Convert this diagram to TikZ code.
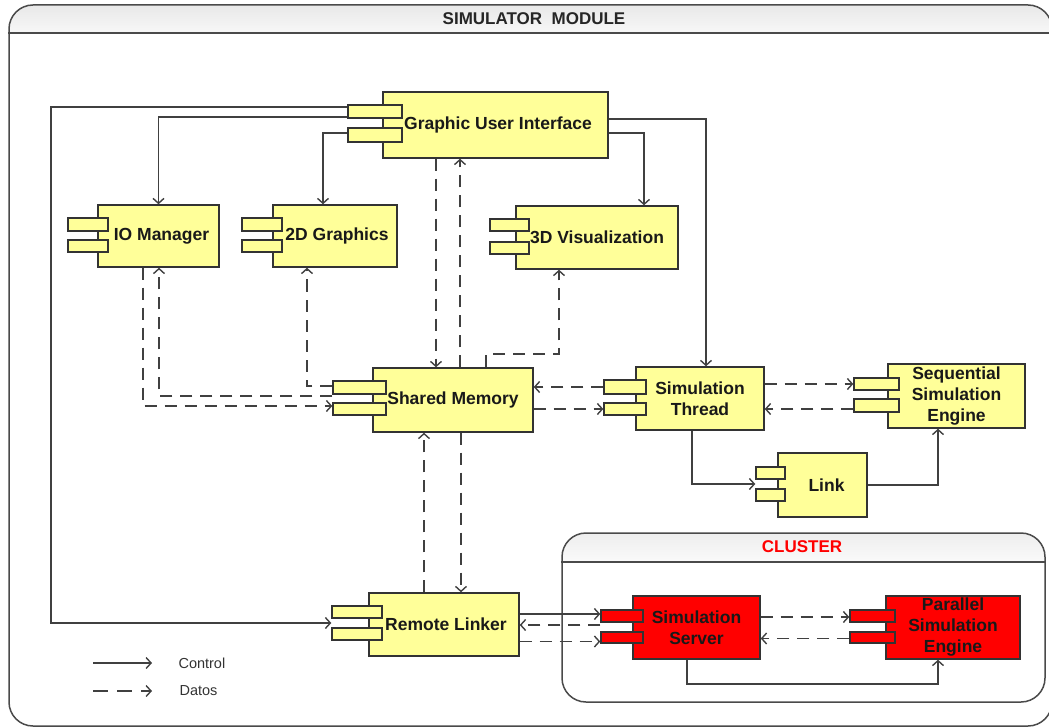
\documentclass[tikz,border=0pt]{standalone}
\usepackage{fontspec}
\setmainfont{Liberation Sans}
\usetikzlibrary{arrows.meta,calc}

\definecolor{compyellow}{HTML}{FFFF99}
\definecolor{compred}{HTML}{FF0000}
\definecolor{edge}{HTML}{333333}
\definecolor{wire}{HTML}{404040}
\definecolor{framec}{HTML}{4A4A4A}

\tikzset{
  comp/.style={draw=edge, line width=1.4pt, fill=compyellow, inner sep=0pt,
    align=center, text=black!90, font=\fontsize{17.5}{21}\selectfont\bfseries},
  redcomp/.style={fill=compred, text=black!90},
  tab/.style={draw=edge, line width=1.4pt, fill=compyellow, inner sep=0pt},
  ctrl/.style={draw=wire, line width=1.8pt,
    -{Straight Barb[length=5pt,width=11pt,line width=1.4pt]}},
  data/.style={ctrl, dash pattern=on 12pt off 8pt},
  frame/.style={draw=framec, line width=1.5pt, rounded corners=24pt},
  legtext/.style={anchor=west, text=black!80, font=\fontsize{14.5}{17}\selectfont},
}

% component body: [style] name x1 y1 x2 y2 text
\newcommand{\comp}[7][]{%
  \node[comp, #1, minimum width={(#5)-(#3)}, minimum height={(#6)-(#4)}]
    (#2) at ({((#3)+(#5))/2},{((#4)+(#6))/2}) {#7};}
% the two component tabs: [fill] name x1 x2 y1a y1b y2a y2b
\newcommand{\comptabs}[8][compyellow]{%
  \node[tab, fill=#1, minimum width={(#4)-(#3)}, minimum height={(#6)-(#5)}]
    (#2-t1) at ({((#3)+(#4))/2},{((#5)+(#6))/2}) {};
  \node[tab, fill=#1, minimum width={(#4)-(#3)}, minimum height={(#8)-(#7)}]
    (#2-t2) at ({((#3)+(#4))/2},{((#7)+(#8))/2}) {};
  \coordinate (#2-gap) at ($(#2-t1.south west)!0.5!(#2-t2.north west)$);}

\begin{document}
\begin{tikzpicture}[x=1pt, y=-1pt]
\useasboundingbox (0,0) rectangle (1049,727);

% ---- simulator module frame ----
\begin{scope}
  \clip[rounded corners=24pt] (9,5) rectangle (1052,726);
  \shade[top color=black!10, bottom color=black!3] (0,0) rectangle (1060,33);
\end{scope}
\node[frame, minimum width=1043pt, minimum height=721pt] (simmod) at (530.5,365.5) {};
\draw[draw=framec, line width=1.8pt] (simmod.west |- 0,33) -- (simmod.east |- 0,33);
\node[font=\fontsize{17}{19}\selectfont\bfseries, text=black!85] (simtitle) at (534,19) {SIMULATOR\ \ MODULE};

% ---- cluster frame ----
\begin{scope}
  \clip[rounded corners=24pt] (562,533) rectangle (1045,702);
  \shade[top color=black!9, bottom color=black!2] (550,520) rectangle (1060,562);
\end{scope}
\node[frame, minimum width=483pt, minimum height=169pt] (cluster) at (803.5,617.5) {};
\draw[draw=framec, line width=1.5pt] (cluster.west |- 0,562) -- (cluster.east |- 0,562);
\node[font=\fontsize{17}{19}\selectfont\bfseries, text=compred] (clustertitle) at (802,547) {CLUSTER};

% ---- components ----
\comp{gui}{383}{92}{608}{158}{\hspace*{5pt}Graphic User Interface}
\comptabs{gui}{348}{402}{105}{118}{128}{142}

\comp{io}{98}{205}{219}{267}{\hspace*{6pt}IO Manager}
\comptabs{io}{68}{108}{218}{231}{240}{252}

\comp{g2d}{273}{205}{397}{267}{\hspace*{4pt}2D Graphics}
\comptabs{g2d}{242}{282}{218}{231}{240}{252}

\comp{viz3}{516}{206}{678}{269}{3D Visualization}
\comptabs{viz3}{490}{529}{219}{231}{242}{254}

\comp{sm}{373}{368}{533}{432}{Shared Memory}
\comptabs{sm}{333}{386}{381}{394}{403}{415}

\comp{st}{636}{367}{764}{430}{Simulation\\Thread}
\comptabs{st}{604}{646}{380}{394}{403}{415}

\comp{seq}{888}{364}{1025}{428}{Sequential\\Simulation\\Engine}
\comptabs{seq}{854}{899}{378}{390}{399}{412}

\comp{link}{778}{453}{867}{517}{\hspace*{8pt}Link}
\comptabs{link}{756}{785}{467}{479}{489}{501}

\comp{rl}{369}{593}{519}{656}{\hspace*{4pt}Remote Linker}
\comptabs{rl}{332}{382}{606}{618}{628}{640}

\comp[redcomp]{srv}{633}{596}{760}{659}{Simulation\\Server}
\comptabs[compred]{srv}{601}{643}{610}{622}{632}{643}

\comp[redcomp]{par}{886}{596}{1020}{659}{Parallel\\Simulation\\Engine}
\comptabs[compred]{par}{850}{895}{610}{622}{632}{643}

% ---- control flow ----
\coordinate (lbus) at (51,400);
\draw[ctrl] ([yshift=4.5pt]gui-t1.west) -| (lbus) |- (rl-gap);
\draw[ctrl] ([yshift=-5.5pt]gui-t1.west) -| (io.north);
\draw[ctrl] ([yshift=2pt]gui-t2.west) -| ([xshift=-12pt]g2d.north);
\draw[ctrl] ([yshift=6pt]gui.east) -| ([xshift=6pt]st.north);
\draw[ctrl] ([yshift=-8pt]gui.east) -| ([xshift=47pt]viz3.north);
\draw[ctrl] ([xshift=-8pt]st.south) |- (link-gap);
\draw[ctrl] (link.east) -| ([xshift=-18.5pt]seq.south);
\draw[ctrl] ([yshift=2pt]rl.east |- srv-t1.west) -- ([yshift=2pt]srv-t1.west);
\draw[ctrl] ([xshift=-9.5pt]srv.south) -- ++(0,24) -| ([xshift=-15pt]par.south);

% ---- data flow ----
\draw[data] ([xshift=-17pt]sm.north |- gui.south) -- ([xshift=-17pt]sm.north);
\draw[data] ([xshift=7pt]sm.north) -- ([xshift=7pt]sm.north |- gui.south);
\draw[data] ([xshift=33pt]sm.north) -- ++(0,-13) -| ([xshift=-38pt]viz3.south);
\draw[data] ([xshift=-15.5pt]io.south) |- ([yshift=3pt]sm-t2.west);
\draw[data] ([yshift=2.5pt]sm-gap) -| ([xshift=0.5pt]io.south);
\draw[data] ([yshift=1.3pt]sm-t1.west) -| ([xshift=-28pt]g2d.south);
\draw[data] (st-t1.west) -- (st-t1.west -| sm.east);
\draw[data] (sm.east |- st-t2.west) -- (st-t2.west);
\draw[data] (st.east |- seq-t1.west) -- (seq-t1.west);
\draw[data] ([yshift=-3.5pt]seq-t2.west) -- ([yshift=-3.5pt]seq-t2.west -| st.east);
\draw[data] ([xshift=-20pt]rl.north) -- ([xshift=-20pt]rl.north |- sm.south);
\draw[data] ([xshift=8pt]sm.south) -- ([xshift=8pt]sm.south |- rl.north);
\draw[data] ([yshift=2pt]srv-gap) -- ([yshift=2pt]srv-gap -| rl.east);
\draw[data] ([yshift=-4pt]rl.east |- srv-t2.west) -- ([yshift=-4pt]srv-t2.west);
\draw[data] ([yshift=-1pt]srv.east |- par-t1.west) -- ([yshift=-1pt]par-t1.west);
\draw[data] ([yshift=-1pt]par-t2.west) -- ([yshift=-1pt]par-t2.west -| srv.east);

% ---- legend ----
\coordinate (lc0) at (93,663);
\coordinate (lc1) at (152,663);
\coordinate (ld0) at (93,691);
\coordinate (ld1) at (152,691);
\draw[ctrl] (lc0) -- (lc1);
\draw[ctrl, dash pattern=on 15pt off 9pt] (ld0) -- (ld1);
\node[legtext] (lctext) at (175,663) {Control};
\node[legtext] (ldtext) at (176,691) {Datos};
\end{tikzpicture}
\end{document}
